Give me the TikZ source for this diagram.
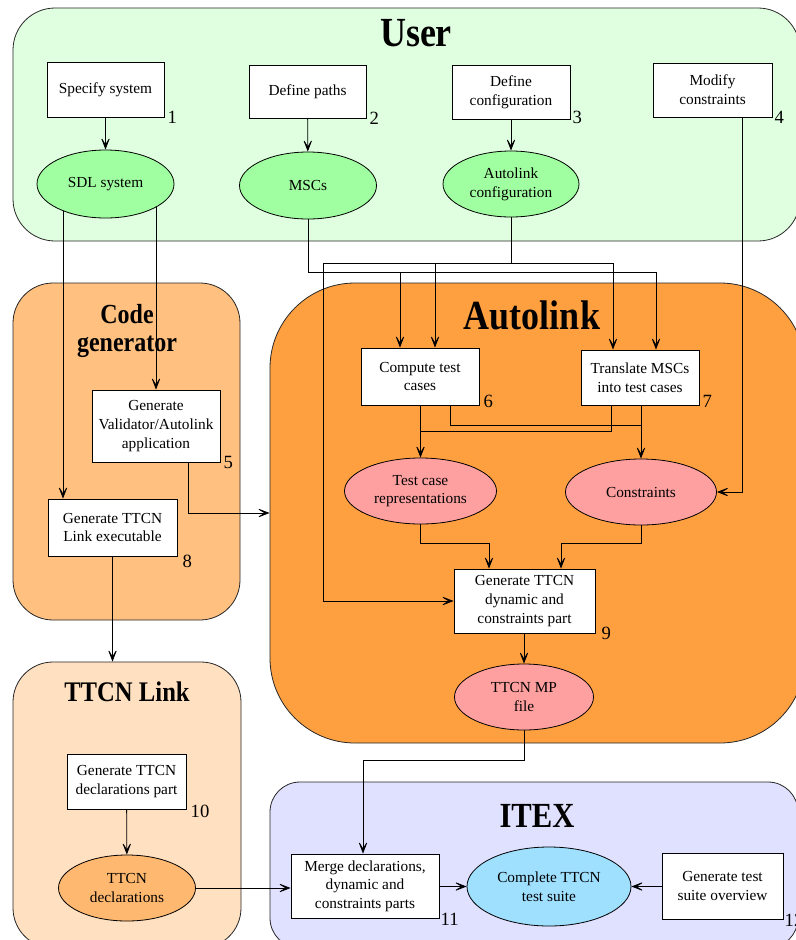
\documentclass[tikz,border=0pt]{standalone}
\usepackage{fontspec}
\setmainfont{Liberation Serif}
\usetikzlibrary{shapes.geometric,arrows.meta,calc}
\pgfdeclarelayer{bg}
\pgfdeclarelayer{fg}
\pgfsetlayers{bg,main,fg}
\definecolor{userc}{HTML}{E0FFE0}
\definecolor{greenc}{HTML}{A0FFA0}
\definecolor{codec}{HTML}{FFC080}
\definecolor{autoc}{HTML}{FFA040}
\definecolor{linkc}{HTML}{FFE0C0}
\definecolor{itexc}{HTML}{E0E0FF}
\definecolor{pinkc}{HTML}{FFA0A0}
\definecolor{declc}{HTML}{FFB870}
\definecolor{bluec}{HTML}{A0E0FF}
\newcommand{\tallt}[1]{\scalebox{1}[1.15]{#1}}
\begin{document}
\begin{tikzpicture}[x=0.75pt,y=-0.75pt,
  txt/.style={font=\fontsize{11.5}{14}\selectfont},
  box/.style={txt,draw=black,fill=white,line width=0.6pt,align=center,inner sep=1pt},
  ell/.style={txt,ellipse,draw=black,line width=0.6pt,align=center,inner sep=0pt},
  region/.style={draw=black!85,line width=0.6pt,inner sep=0pt},
  num/.style={anchor=base west,font=\fontsize{14}{14}\selectfont,inner sep=0pt},
  ttl/.style={font=\bfseries\fontsize{27}{30}\selectfont,align=center,inner sep=0pt},
  conn/.style={line width=0.6pt},
  arr/.style={conn,-{Stealth[length=11pt,width=8.5pt,inset=7pt]}}]
\useasboundingbox (0,0) rectangle (796,940);
\clip (0,0) rectangle (796,940);

\begin{pgfonlayer}{bg}
\node[region,fill=userc,rounded corners=31.5pt,minimum width=590.25pt,minimum height=174.75pt] (rUser) at (406.5,124.5) {};
\node[region,fill=codec,rounded corners=30pt,minimum width=170.25pt,minimum height=252.75pt] (rCode) at (126.5,451.5) {};
\node[region,fill=autoc,rounded corners=63.75pt,minimum width=401.25pt,minimum height=345pt] (rAuto) at (537.5,513) {};
\node[region,fill=linkc,rounded corners=30pt,minimum width=171pt,minimum height=214.5pt] (rLink) at (127,805) {};
\node[region,fill=itexc,rounded corners=22.5pt,minimum width=396pt,minimum height=124.5pt] (rItex) at (534,865) {};
\end{pgfonlayer}

\node[ttl] (tUser) at (416,33) {\tallt{User}};
\node[ttl,font=\bfseries\fontsize{18}{21}\selectfont] (tCode) at (127,331) {\tallt{Code}\\\tallt{generator}};
\node[ttl] (tAuto) at (532,315) {\tallt{Autolink}};
\node[ttl,font=\bfseries\fontsize{18.5}{21}\selectfont] (tLink) at (127,692) {\tallt{TTCN Link}};
\node[ttl,font=\bfseries\fontsize{23}{26}\selectfont] (tItex) at (537,816) {\tallt{ITEX}};

\begin{pgfonlayer}{fg}
\node[box,minimum width=87.75pt,minimum height=41.25pt] (b1) at (105.5,89.5) {Specify system};
\node[box,minimum width=87.75pt,minimum height=39.75pt] (b2) at (307.5,91.5) {Define paths};
\node[box,minimum width=88.5pt,minimum height=40.5pt] (b3) at (511,92) {Define\\configuration};
\node[box,minimum width=89.25pt,minimum height=40.5pt] (b4) at (712.5,90) {Modify\\constraints};
\node[ell,fill=greenc,minimum width=102.75pt,minimum height=51pt] (e1) at (105.5,184) {SDL system};
\node[ell,fill=greenc,minimum width=102.75pt,minimum height=50.25pt] (e2) at (308,185.5) {MSCs};
\node[ell,fill=greenc,minimum width=102pt,minimum height=49.5pt] (e3) at (511,184) {Autolink\\configuration};
\node[box,minimum width=96pt,minimum height=54pt] (b5) at (156,426) {Generate\\Validator/Autolink\\application};
\node[box,minimum width=96.75pt,minimum height=42.75pt] (b8) at (112.5,527.5) {Generate TTCN\\Link executable};
\node[box,minimum width=88.5pt,minimum height=42.75pt] (b6) at (420,376.5) {Compute test\\cases};
\node[box,minimum width=88.5pt,minimum height=41.25pt] (b7) at (640,377.5) {Translate MSCs\\into test cases};
\node[ell,fill=pinkc,minimum width=114pt,minimum height=49.5pt] (e5) at (420.5,491) {Test case\\representations};
\node[ell,fill=pinkc,minimum width=113.25pt,minimum height=49.5pt] (e6) at (641,492) {Constraints};
\node[box,minimum width=105.75pt,minimum height=48pt] (b9) at (524.5,601) {Generate TTCN\\dynamic and\\constraints part};
\node[ell,fill=pinkc,minimum width=104.25pt,minimum height=49.5pt] (e7) at (524,697) {TTCN MP\\file};
\node[box,minimum width=89.25pt,minimum height=41.25pt] (b10) at (126.5,781.5) {Generate TTCN\\declarations part};
\node[ell,fill=declc,minimum width=102.75pt,minimum height=49.5pt] (e9) at (127,888) {TTCN\\declarations};
\node[box,minimum width=111pt,minimum height=48pt] (b11) at (365,886) {Merge declarations,\\dynamic and\\constraints parts};
\node[ell,fill=bluec,minimum width=123pt,minimum height=59.25pt] (e10) at (549,886.5) {Complete TTCN\\test suite};
\node[box,minimum width=90.75pt,minimum height=49.5pt] (b12) at (722.5,886) {Generate test\\suite overview};
\end{pgfonlayer}

\node[num] (n1) at ($(b1.south east)+(3,6)$) {1};
\node[num] (n2) at ($(b2.south east)+(3,6)$) {2};
\node[num] (n3) at ($(b3.south east)+(2,4)$) {3};
\node[num] (n4) at ($(b4.south east)+(2,6)$) {4};
\node[num] (n5) at ($(b5.south east)+(3,6)$) {5};
\node[num] (n6) at ($(b6.south east)+(4,2)$) {6};
\node[num] (n7) at ($(b7.south east)+(3,2)$) {7};
\node[num] (n8) at ($(b8.south east)+(5,11)$) {8};
\node[num] (n9) at ($(b9.south east)+(6,6)$) {9};
\node[num] (n10) at ($(b10.south east)+(4,8)$) {10};
\node[num] (n11) at ($(b11.south east)+(1,7)$) {11};
\node[num] (n12) at ($(b12.south east)+(1,7)$) {12};

% User
\draw[arr] (b1) -- (e1);
\draw[arr] (b2) -- (e2);
\draw[arr] (b3) -- (e3);
\draw[arr] (e1.center -| 63,0) -- (b8.north -| 63,0);
\draw[arr] (e1.center -| 156,0) -- (b5.north);
\draw[arr] (e2.center) -- (308,272) -| (b6.north -| 400,0);
\draw[arr] (308,272) -| (b7.north -| 656,0);
\draw[arr] (e3.center) -- (511,263) -| (b6.north -| 435,0);
\draw[arr] (511,263) -| (b7.north -| 613,0);
\draw[arr] (511,263) -| (b9.west -| 323,0) -- (b9.west);
\draw[arr] (b4.south -| 742,0) |- (e6.east);
% Autolink
\draw[arr] (b6.south -| e5.north) -- (e5.north);
\draw[conn] (b6.south -| 450,0) |- (e6.north |- 0,425);
\draw[conn] (b7.south -| 611,0) |- (e5.north |- 0,431);
\draw[arr] (b7.south -| e6.north) -- (e6.north);
\draw[arr] (e5.south) |- (489,543) -- (b9.north -| 489,0);
\draw[arr] (e6.south) |- (561,543) -- (b9.north -| 561,0);
\draw[arr] (b9.south -| e7.north) -- (e7.north);
\draw[arr] (e7.south) |- (363,760) -- (b11.north -| 363,0);
% Code generator
\draw[arr] (b5.south -| 188,0) |- (rAuto.west |- 0,513);
\draw[arr] (b8.south) -- (b8.south |- rLink.north);
% TTCN Link / ITEX
\draw[arr] (b10) -- (e9);
\draw[arr] (e9.east) -- (b11.west |- e9.east);
\draw[arr] (b11.east |- e10.west) -- (e10.west);
\draw[arr] (b12.west |- e10.east) -- (e10.east);
\end{tikzpicture}
\end{document}
